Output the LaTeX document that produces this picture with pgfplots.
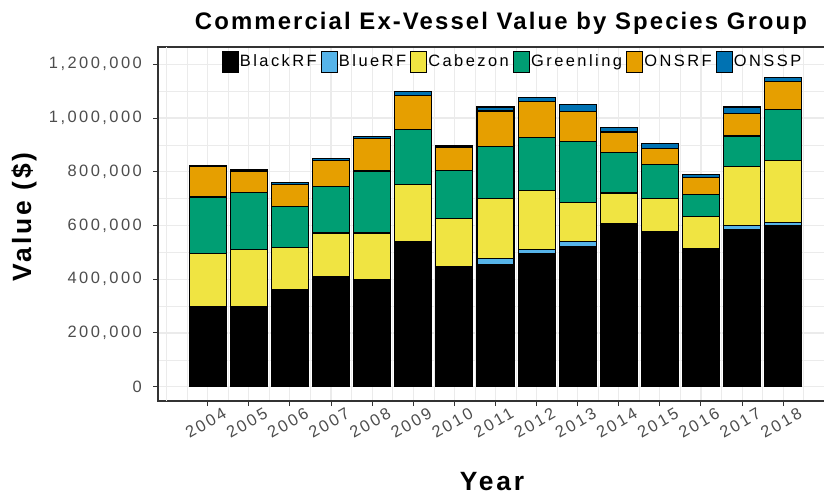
\documentclass[border=0pt]{standalone}
\usepackage{fontspec}
\setmainfont{Liberation Sans}
\newfontfamily\tk[LetterSpace=15]{Liberation Sans}
\newfontfamily\ttl[LetterSpace=8.8]{Liberation Sans}
\newfontfamily\lbl[LetterSpace=11]{Liberation Sans}
\usepackage{pgfplots}
\usepackage{pgfplotstable}
\pgfplotsset{compat=1.18}
\definecolor{cBlack}{HTML}{000000}
\definecolor{cBlue}{HTML}{56B4E9}
\definecolor{cYel}{HTML}{F0E442}
\definecolor{cGreen}{HTML}{009E73}
\definecolor{cOrange}{HTML}{E69F00}
\definecolor{cNavy}{HTML}{0072B2}
\definecolor{tickgray}{HTML}{4D4D4D}
\definecolor{gridgray}{HTML}{EBEBEB}
\pgfplotstableread{
year black blue cab green onsrf onssp
2004 297000 0 199000 210000 112000 4000
2005 297000 0 214000 212000 80000 7000
2006 360000 0 158000 154000 81000 6000
2007 409000 0 163000 174000 97000 7000
2008 397000 0 175000 231000 120000 9000
2009 539000 0 214000 204000 127000 16000
2010 449000 0 177000 179000 87000 4000
2011 456000 21000 223000 195000 131000 15000
2012 496000 15000 218000 197000 136000 16000
2013 523000 16000 146000 226000 114000 25000
2014 607000 0 114000 152000 75000 16000
2015 576000 0 124000 128000 60000 17000
2016 514000 0 118000 84000 61000 14000
2017 585000 16000 219000 113000 83000 25000
2018 601000 9000 233000 188000 106000 15000
}\data
\begin{document}
\begin{tikzpicture}
\useasboundingbox (0,0) rectangle (824bp,499bp);
\begin{axis}[
  at={(158bp,98bp)}, anchor=south west,
  scale only axis, width=668bp, height=354bp,
  xmin=2002.79, xmax=2019.04,
  ymin=-53200, ymax=1264400,
  scaled y ticks=false,
  ybar stacked, bar width=0.9,
  xtick={2004,...,2018},
  xticklabels={2004,2005,2006,2007,2008,2009,2010,2011,2012,2013,2014,2015,2016,2017,2018},
  extra x ticks={2003}, extra x tick labels={},
  extra x tick style={major tick length=0pt},
  minor xtick={2003.5,2004.5,...,2018.5},
  ytick={0,200000,400000,600000,800000,1000000,1200000},
  yticklabels={0,{200,000},{400,000},{600,000},{800,000},{1,000,000},{1,200,000}},
  minor ytick={100000,300000,500000,700000,900000,1100000},
  grid=both,
  major grid style={draw=gridgray, line width=1.1bp},
  minor grid style={draw=gridgray, line width=0.6bp},
  minor tick length=0pt,
  tick align=outside, major tick length=5bp,
  xtick pos=lower, ytick pos=left,
  tick style={draw=black!80, line width=1bp},
  axis line style={draw=black!80, line width=1.1bp},
  yticklabel style={font=\tk\fontsize{16.5}{18}\selectfont, text=tickgray, inner xsep=0pt, xshift=-11bp},
  xticklabel style={font=\tk\fontsize{16.5}{18}\selectfont, text=tickgray, xshift=-2bp, yshift=-17bp, rotate=30, anchor=center, inner sep=0pt},
  title={Commercial Ex-Vessel Value by Species Group},
  title style={font=\ttl\bfseries\fontsize{24}{26}\selectfont, at={(rel axis cs:0.5,1)}, anchor=base, xshift=9bp, yshift=11.7bp},
  xlabel={Year},
  xlabel style={font=\lbl\bfseries\fontsize{26.5}{30}\selectfont, at={(rel axis cs:0.5,0)}, anchor=base, yshift=-89bp},
  ylabel={Value (\$)},
  ylabel style={font=\lbl\bfseries\fontsize{26.5}{30}\selectfont, at={(-0.1901,0.52)}, anchor=base},
  every axis plot/.append style={draw=black, line width=1.1bp},
  legend columns=6,
  legend style={at={(rel axis cs:0.095,0.99)}, anchor=north west, draw=none, fill=none,
    font=\tk\fontsize{16.5}{18}\selectfont, inner sep=0pt,
    nodes={inner xsep=1bp, inner ysep=0pt},
    /tikz/every even column/.append style={column sep=3bp}},
  legend image code/.code={\draw[#1, draw=black, line width=1.2bp] (0bp,-10.4bp) rectangle (16bp,10.4bp);},
]
\addplot[fill=cBlack] table[x=year,y=black]{\data};
\addplot[fill=cBlue] table[x=year,y=blue]{\data};
\addplot[fill=cYel] table[x=year,y=cab]{\data};
\addplot[fill=cGreen] table[x=year,y=green]{\data};
\addplot[fill=cOrange] table[x=year,y=onsrf]{\data};
\addplot[fill=cNavy] table[x=year,y=onssp]{\data};
\legend{BlackRF,BlueRF,Cabezon,Greenling,ONSRF,ONSSP}
\end{axis}
\end{tikzpicture}
\end{document}
